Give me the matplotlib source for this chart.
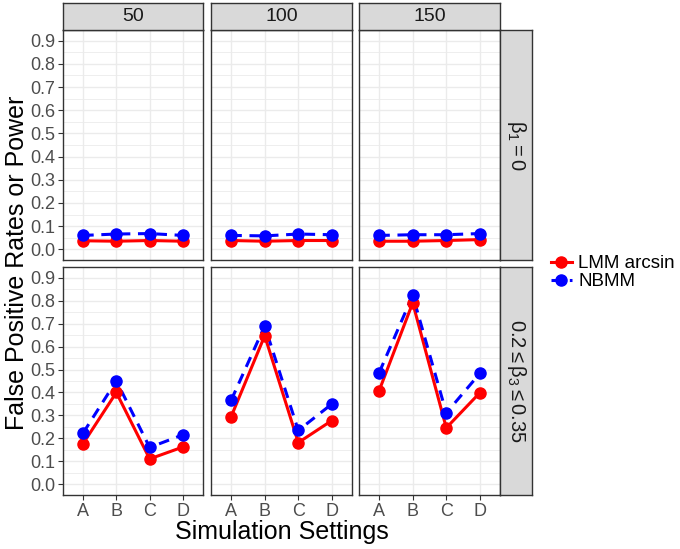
import matplotlib
matplotlib.use("Agg")
import matplotlib.pyplot as plt
from matplotlib.lines import Line2D
import numpy as np

plt.rcParams['font.family'] = ['Liberation Sans', 'DejaVu Sans']
plt.rcParams['mathtext.fontset'] = 'custom'
plt.rcParams['mathtext.rm'] = 'Liberation Sans'
plt.rcParams['mathtext.it'] = 'Liberation Sans'
plt.rcParams['mathtext.bf'] = 'Liberation Sans:bold'

settings = ["A", "B", "C", "D"]
sample_sizes = ["50", "100", "150"]
row_labels = [r"$\beta_1 = 0$", r"$0.2 \leq \beta_3 \leq 0.35$"]
methods = ["LMM arcsin", "NBMM"]

# row 0: beta1 = 0 ; row 1: 0.2 <= beta3 <= 0.35
lmm_row0 = [[0.037, 0.035, 0.038, 0.035],
            [0.038, 0.035, 0.038, 0.038],
            [0.035, 0.035, 0.038, 0.042]]
nbmm_row0 = [[0.060, 0.066, 0.068, 0.060],
             [0.060, 0.058, 0.066, 0.063],
             [0.060, 0.063, 0.063, 0.068]]
lmm_row1 = [[0.177, 0.400, 0.111, 0.163],
            [0.295, 0.647, 0.182, 0.278],
            [0.408, 0.790, 0.246, 0.399]]
nbmm_row1 = [[0.223, 0.451, 0.161, 0.216],
             [0.366, 0.690, 0.235, 0.350],
             [0.486, 0.823, 0.311, 0.483]]

y_ticks = [0.0, 0.1, 0.2, 0.3, 0.4, 0.5, 0.6, 0.7, 0.8, 0.9]
y_tick_labels = ["0.0", "0.1", "0.2", "0.3", "0.4", "0.5", "0.6", "0.7", "0.8", "0.9"]

W, H = 680, 549
fig = plt.figure(figsize=(W / 100, H / 100), dpi=100)

def px_axes(x0, y0, x1, y1):
    return fig.add_axes([x0 / W, 1 - y1 / H, (x1 - x0) / W, (y1 - y0) / H])

cols = [(63, 203), (211, 352), (359, 500)]
rows = [(30, 260), (267, 495)]
border = "#333333"
strip_bg = "#D9D9D9"
grid_c = "#EBEBEB"
red = "#FF0000"
blue = "#0000FF"
dash = (0, (3.5, 2.5))
lw = 2.2
ms = 8

data = [(lmm_row0, nbmm_row0), (lmm_row1, nbmm_row1)]
xpos = np.arange(1, len(settings) + 1)

for r, (ry0, ry1) in enumerate(rows):
    for c, (cx0, cx1) in enumerate(cols):
        ax = px_axes(cx0, ry0, cx1, ry1)
        ax.set_xlim(0.4, 4.6)
        ax.set_ylim(-0.046, 0.946)
        ax.set_yticks(y_ticks)
        ax.set_yticks(np.arange(0.05, 0.95, 0.1), minor=True)
        ax.set_xticks(xpos)
        ax.grid(True, which='major', color=grid_c, lw=1.0, zorder=0)
        ax.grid(True, which='minor', axis='y', color=grid_c, lw=0.6, zorder=0)
        ax.tick_params(axis='both', which='minor', length=0)
        ax.tick_params(axis='both', which='major', length=3.5, width=0.8, color=border,
                       labelsize=13, labelcolor="#4D4D4D", pad=2)
        if c == 0:
            ax.set_yticklabels(y_tick_labels)
        else:
            ax.tick_params(axis='y', which='major', left=False, labelleft=False)
        if r == 1:
            ax.set_xticklabels(settings)
        else:
            ax.tick_params(axis='x', which='major', bottom=False, labelbottom=False)
        for s in ax.spines.values():
            s.set_color(border)
            s.set_linewidth(1.0)
        lmm, nbmm = data[r]
        ax.plot(xpos, lmm[c], color=red, lw=lw, ls='-', zorder=3)
        ax.plot(xpos, nbmm[c], color=blue, lw=lw, ls=dash, zorder=3)
        ax.plot(xpos, lmm[c], ls='none', marker='o', ms=ms, color=red, zorder=4)
        ax.plot(xpos, nbmm[c], ls='none', marker='o', ms=ms, color=blue, zorder=4)
        ax.set_axisbelow(True)

# top strips
for c, (cx0, cx1) in enumerate(cols):
    sax = px_axes(cx0, 3, cx1, 30)
    sax.set_facecolor(strip_bg)
    sax.set_xticks([]); sax.set_yticks([])
    for s in sax.spines.values():
        s.set_color(border); s.set_linewidth(1.0)
    sax.text(0.5, 0.5, sample_sizes[c], ha='center', va='center', fontsize=14,
             color="#1A1A1A", transform=sax.transAxes)

# right strips
for r, (ry0, ry1) in enumerate(rows):
    sax = px_axes(500, ry0, 532, ry1)
    sax.set_facecolor(strip_bg)
    sax.set_xticks([]); sax.set_yticks([])
    for s in sax.spines.values():
        s.set_color(border); s.set_linewidth(1.0)
    sax.text(0.5, 0.5, row_labels[r], ha='center', va='center', fontsize=14.5,
             color="#1A1A1A", rotation=-90, transform=sax.transAxes)

# axis titles
fig.text(17 / W, 1 - 263 / H, "False Positive Rates or Power", rotation=90,
         ha='center', va='center', fontsize=18, color='black')
fig.text(282 / W, 1 - 532 / H, "Simulation Settings", ha='center', va='center',
         fontsize=18, color='black')

# legend
handles = [
    Line2D([], [], color=red, lw=lw, ls='-', marker='o', ms=ms),
    Line2D([], [], color=blue, lw=lw, ls=dash, marker='o', ms=ms),
]
fig.legend(handles, methods, loc='upper left', bbox_to_anchor=(551 / W, 1 - 255 / H),
           frameon=False, fontsize=13.5, handlelength=1.1, handletextpad=0.35,
           labelspacing=0.05, borderpad=0, borderaxespad=0)

fig.savefig("out.png", dpi=100)
